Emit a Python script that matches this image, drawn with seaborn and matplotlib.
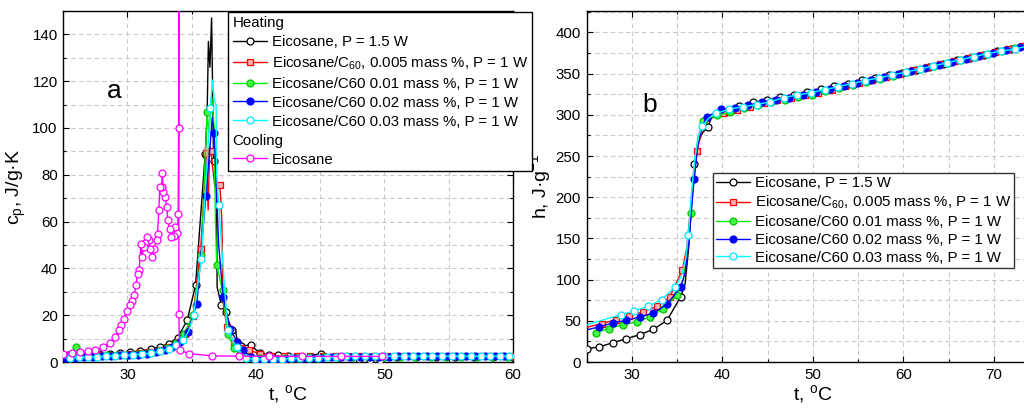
import matplotlib
matplotlib.use("Agg")
import matplotlib.pyplot as plt
from matplotlib.lines import Line2D
from matplotlib.ticker import MultipleLocator
import pandas as pd
import seaborn as sns

# ================= Panel a : specific heat c_p(t) =================
# Heating, Eicosane P = 1.5 W (black)
blk_t = [25.4, 26.2, 27.0, 27.8, 28.6, 29.4, 30.2, 31.0, 31.8, 32.5, 33.2, 33.9, 34.65, 35.3, 36.05,
         36.7, 37.3, 37.65, 38.1, 38.55, 38.85, 39.6, 40.3, 41.0, 41.7, 42.5, 43.6, 45.1, 46.5, 48.0,
         48.9, 49.7, 51.0, 52.5, 54.0, 55.5, 57.0, 58.5, 60.0]
blk_cp = [2.8, 3.0, 3.1, 3.3, 3.5, 3.8, 4.2, 4.8, 5.5, 6.5, 7.8, 10.4, 17.8, 32.8, 88.8,
          86.0, 24.5, 21.5, 13.5, 8.6, 7.0, 7.2, 3.8, 3.0, 2.8, 2.4, 2.1, 3.6, 2.0, 1.4,
          1.0, 1.0, 2.2, 2.3, 2.3, 2.3, 2.3, 2.3, 2.3]
blk_pk_t = [25.0, 36.2, 36.3, 36.42, 36.55, 36.62, 36.92, 36.98, 38.4]
blk_pk_cp = [2.7, 105.0, 137.0, 126.0, 147.0, 120.0, 82.0, 32.0, 14.0]

# Heating, Eicosane/C60 0.005 mass % (red)
red_t = [25.3, 26.1, 26.9, 27.7, 28.5, 29.3, 30.1, 30.9, 31.7, 32.5, 33.2, 33.9, 34.5, 35.1, 35.7,
         36.15, 36.5, 37.2, 37.75, 38.3, 38.85, 39.45, 40.3, 41.2, 42.2, 43.2, 44.2, 45.2, 46.2, 47.2,
         48.2, 49.2, 50.2, 51.2, 52.2, 53.2, 54.2, 55.2, 56.2, 57.2, 58.2, 59.2, 60.0]
red_cp = [2.5, 2.6, 2.7, 2.8, 3.0, 3.2, 3.5, 3.9, 4.4, 5.2, 6.3, 8.5, 12.0, 19.5, 48.5,
          89.5, 90.0, 75.5, 15.0, 8.0, 6.0, 5.0, 3.6, 2.6, 2.5, 2.5, 2.5, 2.6, 2.6, 2.6,
          2.6, 2.6, 2.6, 2.6, 2.6, 2.6, 2.6, 2.6, 2.6, 2.6, 2.6, 2.6, 2.6]
red_pk_t = [25.0, 36.28, 36.4, 36.8, 37.35, 37.45]
red_pk_cp = [2.5, 65.0, 92.0, 75.0, 60.0, 25.0]

# Heating, Eicosane/C60 0.01 mass % (green)
grn_t = [26.0, 26.8, 27.6, 28.4, 29.2, 30.0, 30.8, 31.6, 32.4, 33.1, 33.8, 34.4, 35.1, 35.75, 36.2,
         36.95, 37.4, 37.8, 38.3, 38.8, 39.5, 40.3, 41.2, 42.2, 43.2, 44.2, 45.2, 46.4, 47.6, 48.8,
         50.0, 51.2, 52.4, 53.6, 54.8, 56.0, 57.2, 58.4, 59.6]
grn_cp = [6.4, 2.4, 2.6, 2.8, 3.0, 3.2, 3.5, 4.0, 4.8, 6.0, 8.2, 12.0, 20.0, 45.6, 107.0,
          41.3, 30.6, 12.0, 6.0, 3.5, 2.2, 1.9, 1.8, 1.8, 1.9, 2.0, 2.1, 2.3, 2.3, 2.3,
          2.3, 2.3, 2.3, 2.3, 2.3, 2.3, 2.3, 2.3, 2.3]
grn_pk_t = [26.3, 36.0, 36.35, 36.55, 36.75, 36.85, 60.0]
grn_pk_cp = [2.3, 80.0, 98.0, 114.0, 100.0, 60.0, 2.3]

# Heating, Eicosane/C60 0.02 mass % (blue)
blu_t = [25.2, 25.9, 26.6, 27.3, 28.0, 28.7, 29.4, 30.1, 30.8, 31.5, 32.2, 32.9, 33.5, 34.1, 34.7,
         35.4, 36.1, 36.75, 37.45, 38.0, 38.55, 39.0, 39.6, 40.2, 40.9, 41.6, 42.3, 43.0, 43.7, 44.4,
         45.1, 45.85, 46.6, 47.35, 48.1, 48.85, 49.6, 50.35, 51.1, 51.85, 52.6, 53.35, 54.1, 54.85, 55.6,
         56.35, 57.1, 57.85, 58.6, 59.35]
blu_cp = [1.6, 1.8, 2.0, 2.2, 2.4, 2.6, 2.8, 3.0, 3.2, 3.6, 4.2, 5.2, 6.5, 8.5, 12.8,
          25.0, 71.0, 98.0, 27.8, 14.0, 8.5, 5.0, 2.0, 1.3, 1.3, 1.4, 1.4, 1.5, 1.5, 1.6,
          1.7, 2.2, 2.3, 2.3, 2.3, 2.3, 2.3, 2.3, 2.4, 2.4, 2.4, 2.4, 2.4, 2.4, 2.4,
          2.4, 2.4, 2.4, 2.4, 2.4]
blu_pk_t = [25.0, 36.4, 36.6, 37.1, 60.0]
blu_pk_cp = [1.6, 90.0, 104.5, 50.0, 2.4]

# Heating, Eicosane/C60 0.03 mass % (cyan)
cyn_t = [25.55, 26.25, 26.95, 27.65, 28.35, 29.05, 29.75, 30.45, 31.15, 31.85, 32.55, 33.2, 33.8, 34.35, 35.15,
         35.75, 36.45, 37.1, 37.8, 38.5, 39.2, 39.9, 40.6, 41.3, 42.0, 42.7, 43.4, 44.1, 44.8, 45.5,
         46.25, 47.0, 47.75, 48.5, 49.25, 50.0, 50.75, 51.5, 52.25, 53.0, 53.75, 54.5, 55.25, 56.0, 56.75,
         57.5, 58.25, 59.0, 59.75]
cyn_cp = [1.9, 2.0, 2.1, 2.3, 2.5, 2.7, 2.9, 3.1, 3.4, 3.8, 4.5, 5.6, 7.2, 9.5, 20.0,
          44.2, 108.4, 67.0, 13.5, 6.2, 1.5, 1.3, 1.3, 1.4, 1.4, 1.5, 1.5, 1.6, 1.6, 2.0,
          2.3, 2.4, 2.4, 2.4, 2.5, 2.5, 2.5, 2.5, 2.5, 2.5, 2.5, 2.5, 2.5, 2.5, 2.5,
          2.5, 2.5, 2.5, 2.5]
cyn_pk_t = [25.0, 34.75, 36.62, 36.75, 36.9, 36.95]
cyn_pk_cp = [1.8, 13.0, 120.5, 112.0, 110.0, 80.0]

# Cooling, Eicosane (magenta) - in measurement order (t decreasing)
mag_t = [49.8, 46.6, 43.6, 41.0, 38.7, 36.6, 34.8, 34.05, 34.0, 34.0, 33.98, 33.95, 33.87, 33.73, 33.6,
         33.41, 33.28, 33.14, 33.06, 32.93, 32.79, 32.71, 32.66, 32.52, 32.44, 32.34, 32.26, 32.07, 31.93, 31.77,
         31.64, 31.53, 31.37, 31.26, 31.13, 31.05, 30.91, 30.78, 30.67, 30.51, 30.35, 30.16, 29.97, 29.7, 29.49,
         29.3, 29.0, 28.6, 28.1, 27.5, 26.95, 26.3, 25.65, 25.0]
mag_cp = [2.4, 2.4, 2.4, 2.4, 2.5, 2.6, 3.6, 5.0, 20.7, 170.0, 99.8, 63.4, 55.0, 57.7, 53.7,
          53.5, 57.0, 60.6, 66.3, 70.6, 72.7, 80.8, 74.8, 74.8, 64.9, 54.9, 52.0, 48.5, 44.9, 48.5,
          52.0, 53.5, 51.0, 49.0, 45.0, 50.6, 39.2, 37.8, 32.8, 28.5, 26.0, 24.2, 22.0, 18.5, 15.7,
          13.5, 10.5, 8.0, 6.3, 5.2, 4.6, 4.2, 4.0, 3.6]

# ================= Panel b : enthalpy h(t) =================
hb_t = [25.0, 26.4, 27.9, 29.4, 30.9, 32.4, 33.9, 35.4, 36.9, 38.4,
        40.4, 41.9, 43.4, 44.9, 46.4, 47.9, 49.4, 50.9, 52.4, 53.9, 55.4, 56.9, 58.4, 59.9, 61.4,
        62.9, 64.4, 65.9, 67.4, 68.9, 70.4, 71.9, 73.4]
hb_h = [16.2, 18.2, 23.5, 28.3, 33.2, 39.7, 50.6, 79.0, 240.0, 285.0,
        304.0, 311.0, 315.0, 318.5, 321.5, 324.5, 327.5, 331.0, 335.0, 338.0, 342.0, 345.0, 348.0, 351.0, 354.5,
        358.0, 362.0, 366.0, 369.5, 373.0, 377.0, 380.0, 383.5]
hb_pk_t = [35.9, 36.3, 36.6, 37.3, 37.8, 38.8, 75.0]
hb_pk_h = [95.0, 140.0, 190.0, 265.0, 278.0, 296.0, 388.0]

hr_t = [26.7, 28.3, 29.7, 31.2, 32.8, 34.2, 35.6, 37.2,
        40.1, 41.6, 43.1, 44.6, 46.1, 47.6, 49.1, 50.6, 52.1, 53.6, 55.1, 56.6, 58.1, 59.6, 61.1,
        62.6, 64.1, 65.6, 67.1, 68.6, 70.1, 71.6, 73.1]
hr_h = [46.6, 51.4, 56.3, 60.7, 67.6, 79.0, 112.0, 256.0,
        301.6, 305.5, 310.0, 314.0, 317.5, 320.5, 323.5, 327.0, 330.5, 334.5, 338.5, 342.5, 346.5, 350.0, 353.8,
        357.5, 361.2, 365.0, 368.8, 372.5, 376.2, 379.6, 383.0]
hr_pk_t = [25.0, 36.1, 36.6, 37.8, 38.6, 39.3, 75.0]
hr_pk_h = [42.0, 140.0, 200.0, 283.0, 295.0, 299.0, 387.0]

hg_t = [26.0, 27.5, 29.0, 30.6, 32.0, 33.5, 35.0, 36.5, 37.9,
        39.4, 40.9, 42.4, 43.9, 45.4, 46.9, 48.4, 49.9, 51.4, 52.9, 54.4, 55.9, 57.4, 58.9, 60.4,
        61.9, 63.4, 64.9, 66.4, 67.9, 69.4, 70.9, 72.4]
hg_h = [35.6, 40.5, 45.3, 48.6, 54.7, 64.8, 81.0, 181.0, 292.7,
        299.5, 303.0, 308.0, 312.0, 315.5, 318.5, 321.5, 324.5, 328.5, 332.0, 336.0, 340.0, 344.0, 347.5, 351.5,
        355.5, 359.5, 363.0, 367.0, 370.5, 374.0, 377.5, 381.0]
hg_pk_t = [35.7, 36.1, 36.9, 37.3, 75.0]
hg_pk_h = [100.0, 130.0, 235.0, 272.0, 386.0]

hu_t = [26.4, 27.9, 29.4, 30.9, 32.4, 33.9, 35.4, 36.9, 38.3,
        39.9, 41.4, 42.9, 44.4, 45.9, 47.4, 48.9, 50.4, 51.9, 53.4, 54.9, 56.4, 57.9, 59.4, 60.9,
        62.4, 63.9, 65.4, 66.9, 68.4, 69.9, 71.4, 72.9]
hu_h = [42.5, 47.4, 50.6, 54.7, 59.5, 70.0, 91.0, 222.0, 297.6,
        306.5, 308.5, 312.0, 315.0, 318.0, 321.0, 324.0, 327.5, 331.0, 335.0, 338.5, 342.5, 346.0, 349.5, 353.0,
        357.0, 360.5, 364.0, 368.0, 371.5, 375.5, 378.5, 382.0]
hu_pk_t = [25.0, 35.9, 36.3, 36.6, 37.3, 37.7, 75.0]
hu_pk_h = [39.0, 108.0, 145.0, 185.0, 262.0, 284.0, 386.0]

hc_t = [28.8, 30.3, 31.8, 33.3, 34.8, 36.25, 37.8,
        39.3, 40.8, 42.3, 43.8, 45.3, 46.8, 48.3, 49.8, 51.3, 52.8, 54.3, 55.8, 57.3, 58.8, 60.3,
        61.8, 63.3, 64.8, 66.3, 67.8, 69.3, 70.8, 72.3, 73.8]
hc_h = [57.5, 62.0, 67.6, 75.7, 91.0, 153.8, 286.0,
        301.6, 307.0, 309.7, 312.5, 315.8, 321.0, 324.0, 327.0, 330.5, 334.0, 338.0, 341.5, 345.0, 348.4, 351.8,
        355.5, 359.2, 363.0, 366.8, 370.5, 374.2, 377.5, 379.4, 384.0]
hc_pk_t = [25.0, 26.5, 35.5, 35.95, 36.6, 37.0, 37.4, 38.5, 75.0]
hc_pk_h = [45.0, 50.0, 105.0, 125.0, 205.0, 250.0, 275.0, 296.0, 387.0]

heat_labels = ["Eicosane, P = 1.5 W",
               r"Eicosane/C$_{\mathregular{60}}$, 0.005 mass %, P = 1 W",
               "Eicosane/C60 0.01 mass %, P = 1 W",
               "Eicosane/C60 0.02 mass %, P = 1 W",
               "Eicosane/C60 0.03 mass %, P = 1 W"]
cool_label = "Eicosane"

# ================= styling =================
sns.set_theme(style="white")
plt.rcParams.update({
    "font.family": ["Liberation Sans", "DejaVu Sans"],
    "mathtext.fontset": "custom",
    "mathtext.rm": "Liberation Sans",
    "mathtext.it": "Liberation Sans:italic",
    "mathtext.bf": "Liberation Sans:bold",
    "text.color": "black",
    "axes.labelcolor": "black",
    "xtick.color": "black",
    "ytick.color": "black",
    "axes.edgecolor": "black",
})

styles = {
    "blk": dict(color="black", marker="o", mfc="white", mec="black", ms=5.0),
    "red": dict(color="#ff0000", marker="s", mfc="#ffb0b0", mec="#ff0000", ms=4.2),
    "grn": dict(color="#00ee00", marker="o", mfc="#40ff40", mec="#00c000", ms=5.0),
    "blu": dict(color="#0000ff", marker="o", mfc="#0000ff", mec="#0000ff", ms=5.0),
    "cyn": dict(color="#00ffff", marker="o", mfc="white", mec="#00e5ff", ms=5.0),
    "mag": dict(color="#ff00ff", marker="o", mfc="white", mec="#ff00ff", ms=5.0),
}

W, H = 1024, 408
fig = plt.figure(figsize=(W / 100, H / 100), dpi=100)
axA = fig.add_axes([63.3 / W, (H - 362) / H, (512.7 - 63.3) / W, (362 - 11) / H])
axB = fig.add_axes([586.5 / W, (H - 362) / H, (1039 - 586.5) / W, (362 - 11) / H])


def draw(ax, tm, ym, tu, yu, st, z, sort=True):
    df = pd.DataFrame({"t": list(tm) + list(tu), "y": list(ym) + list(yu)})
    if sort:
        df = df.sort_values("t", kind="stable")
    sns.lineplot(data=df, x="t", y="y", sort=False, estimator=None, color=st["color"],
                 linewidth=1.0, ax=ax, zorder=z, legend=False)
    sns.scatterplot(x=tm, y=ym, marker=st["marker"], s=st["ms"] ** 2, color=st["mfc"],
                    edgecolor=st["mec"], linewidth=0.9, ax=ax, zorder=z + 0.5, legend=False)


# panel a
draw(axA, blk_t, blk_cp, blk_pk_t, blk_pk_cp, styles["blk"], 3)
draw(axA, red_t, red_cp, red_pk_t, red_pk_cp, styles["red"], 4)
draw(axA, grn_t, grn_cp, grn_pk_t, grn_pk_cp, styles["grn"], 5)
draw(axA, blu_t, blu_cp, blu_pk_t, blu_pk_cp, styles["blu"], 6)
draw(axA, cyn_t, cyn_cp, cyn_pk_t, cyn_pk_cp, styles["cyn"], 7)
draw(axA, mag_t, mag_cp, [], [], styles["mag"], 8, sort=False)

# panel b
draw(axB, hb_t, hb_h, hb_pk_t, hb_pk_h, styles["blk"], 3)
draw(axB, hr_t, hr_h, hr_pk_t, hr_pk_h, styles["red"], 4)
draw(axB, hg_t, hg_h, hg_pk_t, hg_pk_h, styles["grn"], 5)
draw(axB, hu_t, hu_h, hu_pk_t, hu_pk_h, styles["blu"], 6)
draw(axB, hc_t, hc_h, hc_pk_t, hc_pk_h, styles["cyn"], 7)

grid_kw = dict(linestyle=(0, (4, 3)), color="#c8c8c8", linewidth=0.8)
for ax in (axA, axB):
    ax.grid(True, which="both", **grid_kw)
    ax.set_axisbelow(True)
    ax.tick_params(which="both", direction="in", top=True, right=True, bottom=True, left=True,
                   color="black", labelsize=10.8, pad=4)
    ax.tick_params(which="major", length=4.5, width=0.8)
    ax.tick_params(which="minor", length=2.5, width=0.8)
    for sp in ax.spines.values():
        sp.set_color("black")
        sp.set_linewidth(1.0)

axA.set_xlim(25, 60)
axA.set_ylim(0, 150)
axA.xaxis.set_major_locator(MultipleLocator(10))
axA.xaxis.set_minor_locator(MultipleLocator(5))
axA.yaxis.set_major_locator(MultipleLocator(20))
axA.yaxis.set_minor_locator(MultipleLocator(10))
axA.set_xlabel("t, $^{\\mathregular{o}}$C", fontsize=14, labelpad=1)
axA.set_ylabel("c$_{\\mathregular{p}}$, J/g·K", fontsize=14, labelpad=3)
axA.text(29.0, 116, "a", fontsize=19, ha="center", va="center")

axB.set_xlim(25, 75)
axB.set_ylim(0, 426)
axB.xaxis.set_major_locator(MultipleLocator(10))
axB.xaxis.set_minor_locator(MultipleLocator(5))
axB.yaxis.set_major_locator(MultipleLocator(50))
axB.yaxis.set_minor_locator(MultipleLocator(25))
axB.set_xlabel("t, $^{\\mathregular{o}}$C", fontsize=14, labelpad=1)
axB.set_ylabel("h, J·g$^{\\mathregular{-1}}$", fontsize=14, labelpad=2)
axB.text(32.0, 312, "b", fontsize=19, ha="center", va="center")


def handle(st):
    return Line2D([0], [0], color=st["color"], lw=1.0, marker=st["marker"], ms=st["ms"],
                  mfc=st["mfc"], mec=st["mec"], mew=0.9)


blank = Line2D([], [], linestyle="none", marker="")
heat_handles = [handle(styles[k]) for k in ("blk", "red", "grn", "blu", "cyn")]

legA = fig.legend([blank] + heat_handles + [blank, handle(styles["mag"])],
                  ["Heating"] + heat_labels + ["Cooling", cool_label],
                  loc="upper left", bbox_to_anchor=(228 / W, 1 - 12 / H), bbox_transform=fig.transFigure,
                  frameon=True, fancybox=False, edgecolor="black", framealpha=1, facecolor="white",
                  borderpad=0.3, borderaxespad=0, handlelength=2.3, handletextpad=0.3,
                  labelspacing=0.33, fontsize=10.8)
legA.get_frame().set_linewidth(1.0)
for col in legA._legend_handle_box.get_children():
    for item in col.get_children():
        h, t = item.get_children()
        if t.get_text() in ("Heating", "Cooling"):
            h.width = 0
            item.sep = 0

legB = axB.legend(heat_handles, heat_labels,
                  loc="upper left", bbox_to_anchor=(712.7 / W, 1 - 173.3 / H), bbox_transform=fig.transFigure,
                  frameon=True, fancybox=False, edgecolor="#333333", framealpha=1, facecolor="white",
                  borderpad=0.2, borderaxespad=0, handlelength=2.3, handletextpad=0.3,
                  labelspacing=0.25, fontsize=10.8)
legB.get_frame().set_linewidth(1.0)

fig.savefig("out.png", dpi=100)
